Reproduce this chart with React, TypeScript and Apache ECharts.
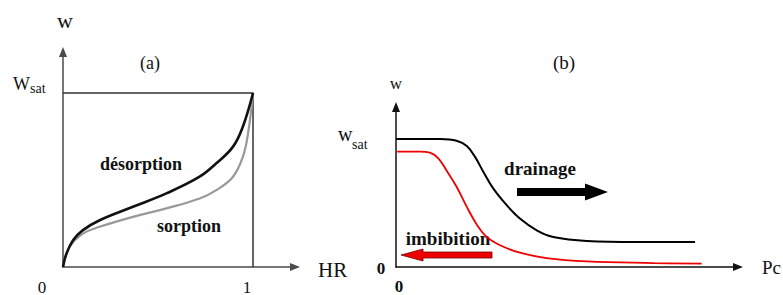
import React, { useEffect, useRef } from "react";
import * as echarts from "echarts";

// Panel (a): sorption / desorption isotherms, w vs HR
const desorptionHR = [0, 0.018, 0.053, 0.105, 0.193, 0.368, 0.544, 0.719, 0.807, 0.895, 0.947, 1];
const desorptionW = [0, 0.077, 0.154, 0.212, 0.269, 0.346, 0.423, 0.519, 0.596, 0.692, 0.808, 1];
const sorptionHR = [0, 0.035, 0.105, 0.193, 0.368, 0.544, 0.719, 0.807, 0.895, 0.947, 0.974, 1];
const sorptionW = [0, 0.115, 0.192, 0.231, 0.288, 0.337, 0.394, 0.442, 0.519, 0.635, 0.769, 1];
const boxHR = [0, 1, 1];
const boxW = [1, 1, 0];

// Panel (b): drainage / imbibition, w vs Pc
const drainagePc = [0, 1.47, 2.02, 2.36, 2.63, 2.91, 3.24, 3.69, 4.13, 4.69, 5.24, 6.36, 8.02, 9.97];
const drainageW = [1, 1, 0.987, 0.945, 0.862, 0.744, 0.614, 0.483, 0.379, 0.287, 0.235, 0.204, 0.196, 0.196];
const imbibitionPc = [0.04, 0.8, 1.13, 1.41, 1.69, 2.02, 2.36, 2.69, 3.02, 3.47, 4.13, 5.02, 6.36, 8.58, 10.19];
const imbibitionW = [0.901, 0.901, 0.893, 0.849, 0.752, 0.627, 0.47, 0.332, 0.235, 0.17, 0.112, 0.07, 0.044, 0.031, 0.026];

// Tick labels
const leftXTickValues = [0, 1];
const leftXTickLabels = ["0", "1"];
const rightXTickValues = [0];
const rightXTickLabels = ["0"];
const rightYTickValues = [0];
const rightYTickLabels = ["0"];

const zip = (a: number[], b: number[]) => a.map((v, i) => [v, b[i]]);

const SERIF = "Liberation Serif";

function axisLine(color: string) {
  return {
    show: true,
    onZero: false,
    symbol: ["none", "triangle"],
    symbolSize: [8, 10],
    lineStyle: { color, width: 1.5 },
  };
}

export default function App() {
  const ref = useRef<HTMLDivElement | null>(null);

  useEffect(() => {
    if (!ref.current) return;
    const chart = echarts.init(ref.current, undefined, { renderer: "svg" });

    const hidden = { axisTick: { show: false }, axisLabel: { show: false }, splitLine: { show: false } };

    const curve = (name: string, g: number, data: number[][], color: string, width: number) => ({
      type: "line",
      name,
      xAxisIndex: g,
      yAxisIndex: g,
      data,
      smooth: 0.4,
      symbol: "none",
      lineStyle: { color, width },
    });

    chart.setOption({
      animation: false,
      backgroundColor: "#ffffff",
      grid: [
        { left: 63, top: 52, width: 232, height: 215 },
        { left: 396, top: 107, width: 342, height: 160 },
      ],
      xAxis: [
        { type: "value", gridIndex: 0, min: 0, max: 1.221, axisLine: axisLine("#4a4a4a"), ...hidden },
        { type: "value", gridIndex: 1, min: 0, max: 11.4, axisLine: axisLine("#111"), ...hidden },
      ],
      yAxis: [
        { type: "value", gridIndex: 0, min: 0, max: 1.236, axisLine: axisLine("#4a4a4a"), ...hidden },
        { type: "value", gridIndex: 1, min: 0, max: 1.25, axisLine: axisLine("#111"), ...hidden },
      ],
      series: [
        {
          type: "line",
          xAxisIndex: 0,
          yAxisIndex: 0,
          data: zip(boxHR, boxW),
          symbol: "none",
          lineStyle: { color: "#333", width: 1.5 },
          silent: true,
        },
        curve("sorption", 0, zip(sorptionHR, sorptionW), "#999999", 2.2),
        curve("désorption", 0, zip(desorptionHR, desorptionW), "#111111", 2.6),
        curve("drainage", 1, zip(drainagePc, drainageW), "#000000", 2),
        curve("imbibition", 1, zip(imbibitionPc, imbibitionW), "#ee0000", 1.8),
      ],
    });

    const px = (g: number, v: [number, number]) => chart.convertToPixel({ gridIndex: g }, v) as number[];

    const txt = (
      text: string,
      x: number,
      y: number,
      size: number,
      opts: { bold?: boolean; align?: string; color?: string } = {}
    ) => ({
      type: "text",
      x,
      y,
      style: {
        text,
        fontFamily: SERIF,
        fontSize: size,
        fontWeight: opts.bold ? "bold" : "normal",
        fill: opts.color || "#111",
        align: opts.align || "center",
        verticalAlign: "middle",
      },
      silent: true,
    });

    const graphics: any[] = [];

    // tick labels (positions from axes)
    const leftXOffsets = [-21, -6];
    leftXTickValues.forEach((v, i) => {
      const p = px(0, [v, 0]);
      graphics.push(txt(leftXTickLabels[i], p[0] + leftXOffsets[i], p[1] + 20, 17));
    });
    rightXTickValues.forEach((v, i) => {
      const p = px(1, [v, 0]);
      graphics.push(txt(rightXTickLabels[i], p[0] + 3, p[1] + 19, 17, { bold: true }));
    });
    rightYTickValues.forEach((v, i) => {
      const p = px(1, [0, v]);
      graphics.push(txt(rightYTickLabels[i], p[0] - 15, p[1] + 1, 17, { bold: true }));
    });

    // saturation labels
    const ls = px(0, [0, 1]);
    graphics.push(txt("W", ls[0] - 50, ls[1] - 9, 18, { align: "left" }));
    graphics.push(txt("sat", ls[0] - 33, ls[1] - 5, 14, { align: "left" }));
    const rs = px(1, [0, 1]);
    graphics.push(txt("w", rs[0] - 58, rs[1] - 5, 20, { align: "left" }));
    graphics.push(txt("sat", rs[0] - 44, rs[1] + 5, 14, { align: "left" }));

    // axis names and panel titles
    graphics.push(txt("w", 65, 20, 22));
    graphics.push(txt("(a)", 150, 63, 18));
    graphics.push(txt("HR", 318, 270, 21, { align: "left" }));
    graphics.push(txt("w", 396, 83, 17));
    graphics.push(txt("(b)", 564, 62, 19));
    graphics.push(txt("Pc", 762, 267, 19, { align: "left" }));

    // curve annotations
    graphics.push(txt("désorption", 141, 164, 18, { bold: true }));
    graphics.push(txt("sorption", 189, 226, 18, { bold: true }));
    graphics.push(txt("drainage", 540, 168, 19, { bold: true }));
    graphics.push(txt("imbibition", 448, 238, 19, { bold: true }));

    // direction arrows
    graphics.push({
      type: "polygon",
      silent: true,
      shape: {
        points: [
          [517, 188],
          [585, 188],
          [585, 183.5],
          [608, 192],
          [585, 200.5],
          [585, 196],
          [517, 196],
        ],
      },
      style: { fill: "#000" },
    });
    graphics.push({
      type: "polygon",
      silent: true,
      shape: {
        points: [
          [492, 252],
          [423, 252],
          [423, 249],
          [401, 255],
          [423, 261],
          [423, 258],
          [492, 258],
        ],
      },
      style: { fill: "#ee0000", stroke: "#700", lineWidth: 0.8 },
    });

    chart.setOption({ graphic: graphics });

    return () => chart.dispose();
  }, []);

  return (
    <div
      ref={ref}
      style={{ position: "fixed", left: 0, top: 0, width: 783, height: 295, background: "#fff" }}
    />
  );
}
